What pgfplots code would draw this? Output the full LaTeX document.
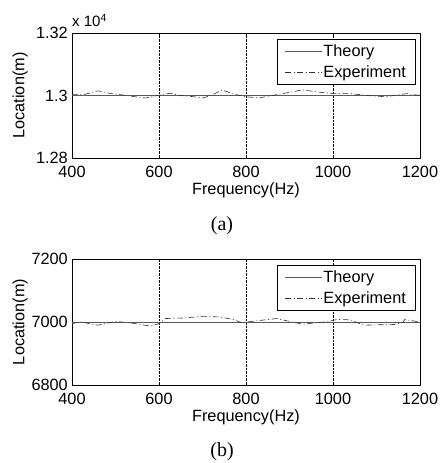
\documentclass[border=0pt]{standalone}
\usepackage{fontspec}
\setmainfont{Liberation Sans}
\newfontfamily\capfont{Liberation Serif}
\usepackage{pgfplots}
\pgfplotsset{compat=1.18}
\newcommand{\lf}{\fontsize{16.3}{17}\selectfont}
\pgfplotsset{mstyle/.style={
  scale only axis, width=348pt, height=125pt,
  xmin=400, xmax=1200, xtick={400,600,800,1000,1200},
  xmajorgrids, major grid style={densely dotted, black, line width=0.5pt},
  tick align=inside, major tick length=3pt,
  tick style={black, line width=0.4pt},
  axis line style={black, line width=0.6pt},
  ticklabel style={font=\lf},
  xticklabel style={inner sep=1pt, yshift=-6.5pt},
  yticklabel style={inner sep=1pt, xshift=-3pt},
  /pgf/number format/assume math mode=true,
  /pgf/number format/1000 sep={},
  label style={font=\lf, inner sep=0.5pt},
  xlabel={Frequency(Hz)}, ylabel={Location(m)},
  xlabel style={at={(axis description cs:0.5,-0.26)}, anchor=center},
  ylabel style={at={(axis description cs:-0.149,0.5)}, anchor=center},
  legend cell align=left,
  legend style={at={(0.986,0.952)}, anchor=north east, draw=black, line width=0.5pt,
    font=\lf, inner xsep=8pt, inner ysep=4pt, row sep=6pt,
    nodes={inner sep=1pt}},
  legend image code/.code={\draw[#1] (0pt,0pt) -- (37pt,0pt);},
}}
\tikzset{mdashdot/.style={dash pattern=on 6pt off 2.5pt on 1pt off 2.5pt}}
\begin{document}
\begin{tikzpicture}
\useasboundingbox (0,0) rectangle (440pt,463pt);
\begin{axis}[mstyle, at={(72pt,305pt)}, anchor=south west,
  ymin=1.28, ymax=1.32, ytick={1.28,1.3,1.32},
  yticklabel style={/pgf/number format/fixed, /pgf/number format/precision=2}]
\addplot[gray!70!black, line width=0.6pt] coordinates {(400,1.3) (1200,1.3)};
\addlegendentry{Theory}
\addplot[black!80, line width=0.6pt, mdashdot] coordinates {
(400,1.3002) (430,1.3004) (460,1.3015) (490,1.3006) (520,1.3001) (550,1.2995)
(570,1.2992) (590,1.2998) (610,1.3004) (625,1.3007) (650,1.3000) (680,1.2996)
(700,1.2992) (720,1.3000) (745,1.3018) (770,1.3005) (800,1.2996) (830,1.2992)
(860,1.3000) (900,1.3010) (930,1.3018) (960,1.3012) (1000,1.3006) (1040,1.3006)
(1080,1.3000) (1120,1.2996) (1150,1.3002) (1170,1.3006) (1200,1.3000)};
\addlegendentry{Experiment}
\end{axis}
\node[anchor=base west, font=\fontsize{15}{15}\selectfont, inner sep=0pt] at (72pt,436pt) {x 10$^{\mathrm{4}}$};
\node[font=\capfont\fontsize{20}{20}\selectfont] at (222pt,237pt) {(a)};
\begin{axis}[mstyle, at={(72pt,78pt)}, anchor=south west, height=126pt,
  ymin=6800, ymax=7200, ytick={6800,7000,7200}]
\addplot[gray!70!black, line width=0.6pt] coordinates {(400,7000) (1200,7000)};
\addlegendentry{Theory}
\addplot[black!80, line width=0.6pt, mdashdot] coordinates {
(400,6995) (420,7000) (460,6990) (500,7002) (540,6996) (580,6987) (600,6995)
(615,7011) (660,7013) (700,7018) (740,7016) (770,7008) (790,6998) (820,7003)
(870,7011) (900,7002) (930,6993) (980,7000) (1010,7008) (1040,7007) (1070,6990)
(1100,6991) (1140,6992) (1160,6998) (1165,7008) (1200,7000)};
\addlegendentry{Experiment}
\end{axis}
\node[font=\capfont\fontsize{20}{20}\selectfont] at (222pt,11pt) {(b)};
\end{tikzpicture}
\end{document}
